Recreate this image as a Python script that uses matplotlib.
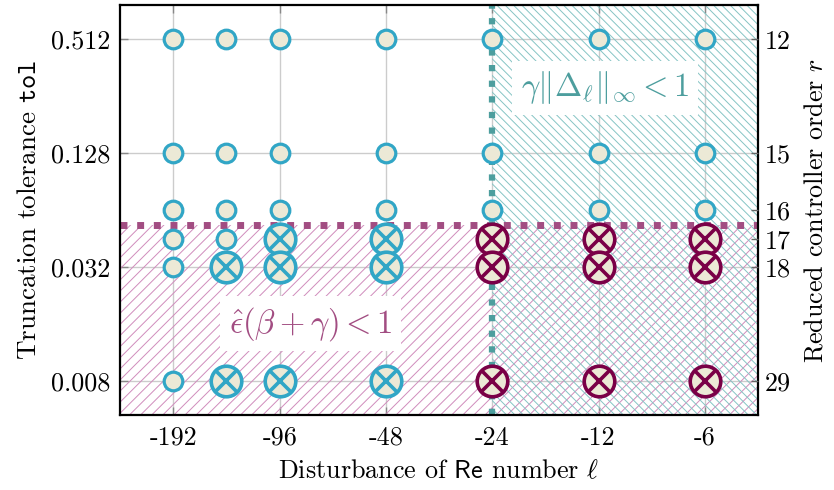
import numpy as np
import matplotlib
matplotlib.use("Agg")
import matplotlib.pyplot as plt
from matplotlib.ticker import NullLocator

plt.rcParams['font.family'] = 'serif'
plt.rcParams['font.serif'] = ['cmr10']
plt.rcParams['mathtext.fontset'] = 'cm'
plt.rcParams['axes.formatter.use_mathtext'] = True
plt.rcParams['hatch.linewidth'] = 0.7

# disturbance of Re number (columns) and truncation tolerances (rows)
ell = [-192, -136, -96, -48, -24, -12, -6]
tol = [0.512, 0.128, 0.064, 0.045, 0.032, 0.008]
order = [12, 15, 16, 17, 18, 29]
xticks = [-192, -96, -48, -24, -12, -6]
yticks = [0.512, 0.128, 0.032, 0.008]
# 0 = stable, 1 = failed (teal), 2 = failed (maroon); rows follow tol
status = [
    [0, 0, 0, 0, 0, 0, 0],
    [0, 0, 0, 0, 0, 0, 0],
    [0, 0, 0, 0, 0, 0, 0],
    [0, 0, 1, 1, 2, 2, 2],
    [0, 1, 1, 1, 2, 2, 2],
    [0, 1, 1, 1, 2, 2, 2],
]
tol_bound = 0.053
ell_bound = -24

teal = '#31a6c6'
maroon = '#7a0047'
cream = '#ece9d6'
mag_line = '#a24d82'
teal_line = '#4d9e9e'
mag_hatch = '#d08cbc'
teal_hatch = '#86c4c4'
fs = 18.8

fig, ax = plt.subplots(figsize=(8.34, 4.9), dpi=100)
fig.subplots_adjust(left=0.1439, right=0.9089, bottom=0.153, top=0.9898)

# log2 axis on |ell|, reversed so that -192 sits on the left
ax.set_xscale('log', base=2)
ax.set_yscale('log', base=2)

ax.axhspan(1e-4, tol_bound, facecolor='none', edgecolor=mag_hatch, hatch='///', lw=0, zorder=0.8)
ax.axvspan(-ell_bound, 1, facecolor='none', edgecolor=teal_hatch, hatch='\\\\\\\\', lw=0, zorder=0.8)

ax.axhline(tol_bound, color=mag_line, lw=5, ls=(0, (1, 1.4)), zorder=2)
ax.axvline(-ell_bound, color=teal_line, lw=4.5, ls=(0, (1, 1.5)), zorder=2)

X, Y = np.meshgrid(np.abs(ell), tol)
S = np.array(status)
m = S == 0
ax.plot(X[m], Y[m], 'o', ms=13.4, mfc=cream, mec=teal, mew=2.3, ls='none', zorder=3)
for code, col in [(1, teal), (2, maroon)]:
    m = S == code
    ax.plot(X[m], Y[m], 'o', ms=22, mfc=cream, mec=col, mew=2.6, ls='none', zorder=3)
    ax.plot(X[m], Y[m], 'x', ms=15.6, mec=col, mew=2.6, ls='none', zorder=3)

ax.set_xlim(272, 4.24)
ax.set_ylim(0.00527, 0.776)
ax.set_xticks(np.abs(xticks))
ax.set_xticklabels([str(v) for v in xticks])
ax.set_yticks(yticks)
ax.set_yticklabels([str(v) for v in yticks])
ax.xaxis.set_minor_locator(NullLocator())
ax.yaxis.set_minor_locator(NullLocator())
ax.tick_params(axis='both', direction='in', length=6, width=1, color='#888888',
               labelsize=fs, top=True, right=False)
ax.tick_params(axis='x', pad=8)
ax.tick_params(axis='y', pad=7)
ax.grid(True, color='#cccccc', lw=1)
ax.set_axisbelow(True)
for sp in ax.spines.values():
    sp.set_linewidth(1.6)

ax.set_xlabel(r'Disturbance of $\mathsf{Re}$ number $\ell$', fontsize=fs, labelpad=7)
ax.set_ylabel(r'Truncation tolerance $\mathtt{tol}$', fontsize=19.5, labelpad=7)

ax2 = ax.twinx()
ax2.set_yscale('log', base=2)
ax2.set_ylim(ax.get_ylim())
ax2.set_yticks(tol)
ax2.set_yticklabels([str(v) for v in order])
ax2.yaxis.set_minor_locator(NullLocator())
ax2.tick_params(axis='y', direction='in', length=5, width=1, color='#666666', labelsize=fs, pad=5)
ax2.set_ylabel(r'Reduced controller order $r$', fontsize=fs, labelpad=9)
for sp in ax2.spines.values():
    sp.set_visible(False)

ax.text(11.5, 0.284, r'$\gamma\|\Delta_\ell\|_\infty < 1$', color=teal_line, fontsize=23.5,
        ha='center', va='center', zorder=4,
        bbox=dict(facecolor='white', edgecolor='none', pad=6))
ax.text(78.5, 0.016, r'$\hat{\epsilon}(\beta + \gamma) < 1$', color=mag_line, fontsize=23.5,
        ha='center', va='center', zorder=4,
        bbox=dict(facecolor='white', edgecolor='none', pad=6))

fig.savefig('out.png', dpi=100)
